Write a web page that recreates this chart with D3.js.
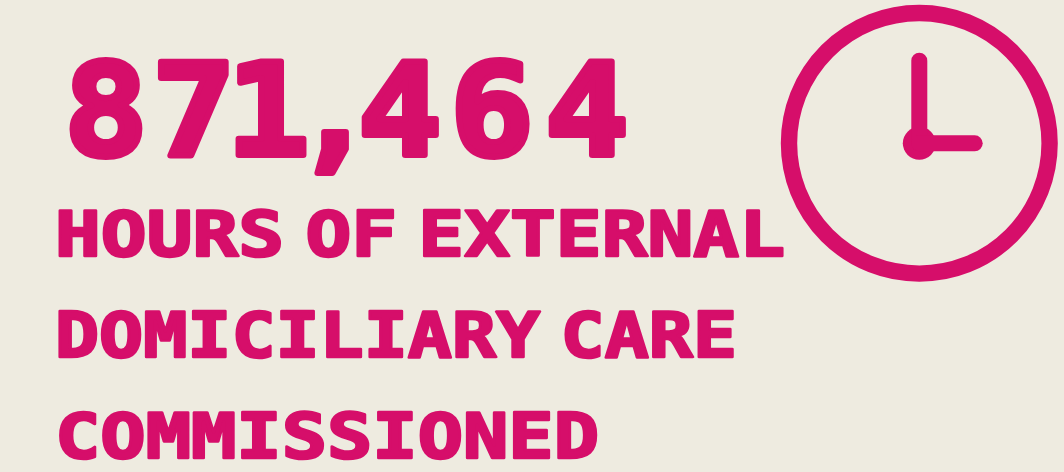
<!DOCTYPE html>
<html>
<head>
<meta charset="utf-8">
<title></title>
<script src="https://d3js.org/d3.v7.min.js"></script>
<style>
  html, body { margin: 0; padding: 0; background: #eeebe0; }
  svg { display: block; }
  text {
    font-family: "DejaVu Sans Mono", monospace;
    font-weight: 700;
    fill: #d60e6a;
    stroke: #d60e6a;
    stroke-linejoin: round;
  }
</style>
</head>
<body>
<svg id="chart" width="1064" height="472"></svg>
<script>
// the figure and its caption lines
var headline = ["871,464"]
var captionLines = ["HOURS OF EXTERNAL", "DOMICILIARY CARE", "COMMISSIONED"]

var pink = "#d60e6a"
var svg = d3.select("#chart")

// comma is narrow in the original, so each headline glyph gets its own centre
var glyphCentres = [106, 194, 268, 335, 400, 492, 587]
var stretch = 1.08

svg.selectAll("text.big")
  .data(headline)
  .enter().append("text")
  .attr("class", "big")
  .attr("transform", "scale(" + stretch + ",1)")
  .attr("x", glyphCentres.map(c => c / stretch).join(" "))
  .attr("y", 155)
  .attr("text-anchor", "middle")
  .attr("font-size", 129)
  .attr("stroke-width", 6)
  .text(d => d)

var captionY = d3.scalePoint()
  .domain(captionLines)
  .range([255.5, 457.5])

var captionWidth = d3.scaleOrdinal()
  .domain(captionLines)
  .range([730, 682, 544])

svg.selectAll("text.caption")
  .data(captionLines)
  .enter().append("text")
  .attr("class", "caption")
  .attr("x", 55)
  .attr("y", d => captionY(d))
  .attr("font-size", 62)
  .attr("stroke-width", 2.5)
  .attr("word-spacing", -20)
  .attr("textLength", d => captionWidth(d))
  .attr("lengthAdjust", "spacingAndGlyphs")
  .text(d => d)

// clock icon
var clock = svg.append("g").attr("transform", "translate(919.3,143.3)")

clock.append("circle")
  .attr("r", 130.3)
  .attr("fill", "none")
  .attr("stroke", pink)
  .attr("stroke-width", 16.4)

clock.append("circle")
  .attr("r", 16.5)
  .attr("fill", pink)

var hands = [[[0, 0], [0, -82.6]], [[0, 0], [55.4, 0]]]
clock.selectAll("path.hand")
  .data(hands)
  .enter().append("path")
  .attr("class", "hand")
  .attr("d", d3.line())
  .attr("fill", "none")
  .attr("stroke", pink)
  .attr("stroke-width", 16)
  .attr("stroke-linecap", "round")
</script>
</body>
</html>
